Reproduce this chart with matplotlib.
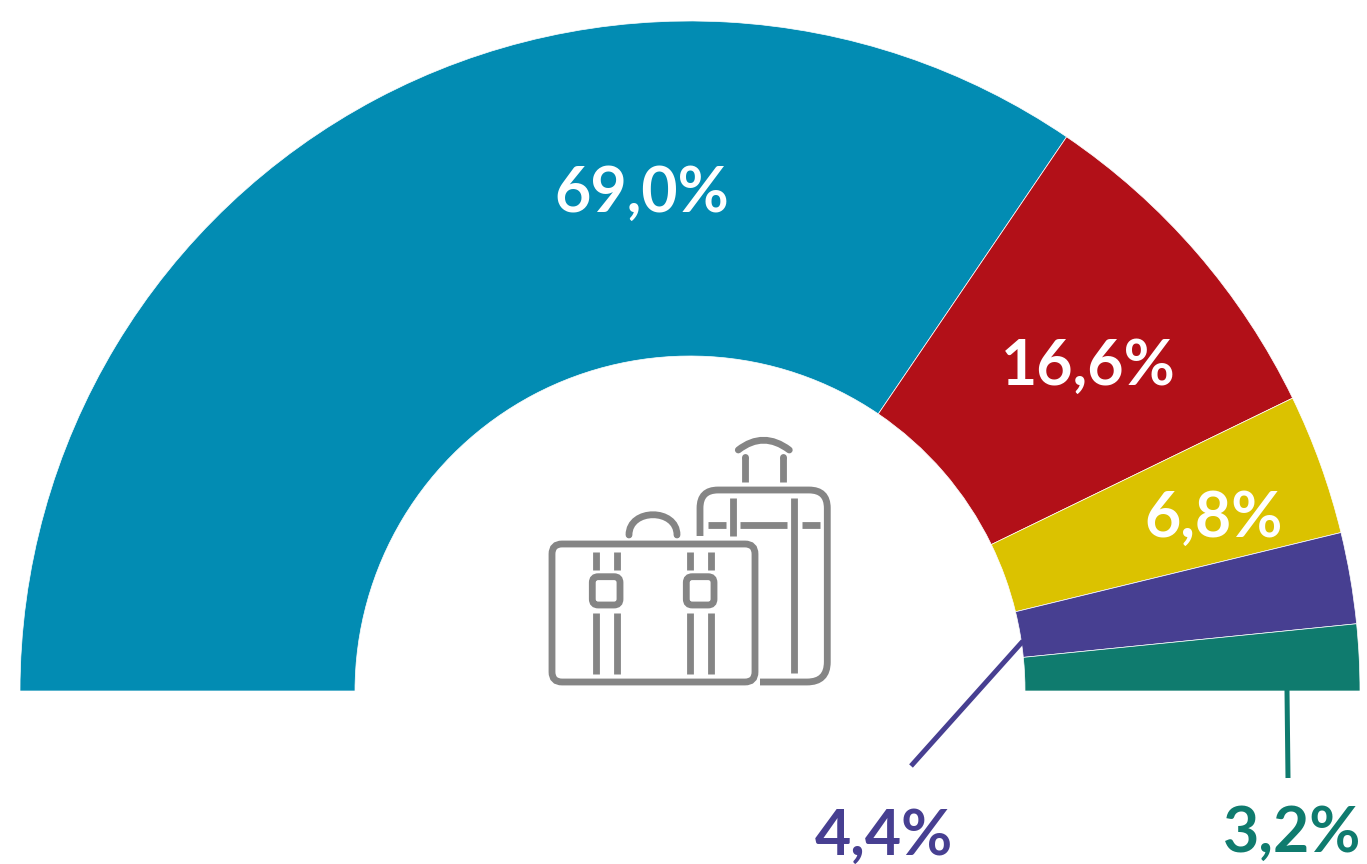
import matplotlib
matplotlib.use('Agg')
from matplotlib import pyplot as plt
from matplotlib.patches import FancyBboxPatch, PathPatch
from matplotlib.path import Path

plt.rcParams['font.family'] = ['Lato', 'DejaVu Sans']

labels = ['69,0%', '16,6%', '6,8%', '4,4%', '3,2%']
values = [69.0, 16.6, 6.8, 4.4, 3.2]
colors = ['#028cb3', '#b21018', '#dbc200', '#473f91', '#0f7b6e']
GREY = '#858585'

fig = plt.figure(figsize=(13.67, 8.64), dpi=100)
ax = fig.add_axes([0, 0, 1, 1])

# half doughnut: the hidden slice fills the lower half
wedges, _ = ax.pie(values + [sum(values)], colors=colors + ['none'], startangle=180,
                   counterclock=True, radius=670, center=(690, 691),
                   wedgeprops=dict(width=335, edgecolor='white', linewidth=0.5))
wedges[-1].set_visible(False)

# axes in image pixels, y going down
ax.set_xlim(0, 1367)
ax.set_ylim(864, 0)
ax.axis('off')

fs = 45
style = dict(fontsize=fs, fontweight='bold', ha='center', va='baseline')
ax.text(641.5, 212, labels[0], color='white', **style)
ax.text(1088.5, 385, labels[1], color='white', **style)
ax.text(1214, 537, labels[2], color='white', **style)
ax.text(884, 855, labels[3], color=colors[3], **style)
ax.text(1292.5, 852, labels[4], color=colors[4], **style)

# leader lines
ax.plot([1023, 911], [641, 766], color=colors[3], lw=3.6, solid_capstyle='butt')
ax.plot([1287, 1288], [690, 778], color=colors[4], lw=3.6, solid_capstyle='butt')

# luggage icon
lw = 4.9


def seg(x1, y1, x2, y2, cap='butt'):
    ax.plot([x1, x2], [y1, y2], color=GREY, lw=lw, solid_capstyle=cap)


def box(x1, y1, x2, y2, r):
    ax.add_patch(FancyBboxPatch((x1 + r, y1 + r), x2 - x1 - 2 * r, y2 - y1 - 2 * r,
                                boxstyle='round,pad=%f,rounding_size=%f' % (r, r),
                                fc='none', ec=GREY, lw=lw))


def curve(verts, codes, cap='round'):
    ax.add_patch(PathPatch(Path(verts, codes), fc='none', ec=GREY, lw=lw, capstyle=cap))


# front suitcase
box(552, 544, 755, 682, 10)
curve([(629, 535), (629, 508), (677, 508), (677, 535)],
      [Path.MOVETO, Path.CURVE4, Path.CURVE4, Path.CURVE4])
for x in [595.7, 616.7, 689.7, 710.7]:
    seg(x, 552, x, 570)
    seg(x, 613, x, 674)
box(592.3, 576.7, 620, 605, 6)
box(686.3, 576.7, 714, 605, 6)

# trolley behind
curve([(700, 536), (700, 508), (700, 490), (718, 490), (809, 490), (827.3, 490), (827.3, 508),
       (827.3, 662), (827.3, 682), (807, 682), (760, 682)],
      [Path.MOVETO, Path.LINETO, Path.CURVE3, Path.CURVE3, Path.LINETO, Path.CURVE3, Path.CURVE3,
       Path.LINETO, Path.CURVE3, Path.CURVE3, Path.LINETO], cap='butt')
seg(732.7, 498, 732.7, 536)
seg(794.3, 498, 794.3, 673)
seg(707.7, 525.3, 725.7, 525.3)
seg(740, 525.3, 787, 525.3)
seg(802, 525.3, 819.7, 525.3)
seg(744.7, 457, 744.7, 482)
seg(782.7, 457, 782.7, 482)
ax.plot([744.7, 782.7], [457, 457], color=GREY, ls='none', marker='o', ms=lw, mew=0)
curve([(738.3, 450), (755, 437), (772, 437), (789.3, 450)],
      [Path.MOVETO, Path.CURVE4, Path.CURVE4, Path.CURVE4])

fig.savefig('out.png', dpi=100, facecolor='white')
